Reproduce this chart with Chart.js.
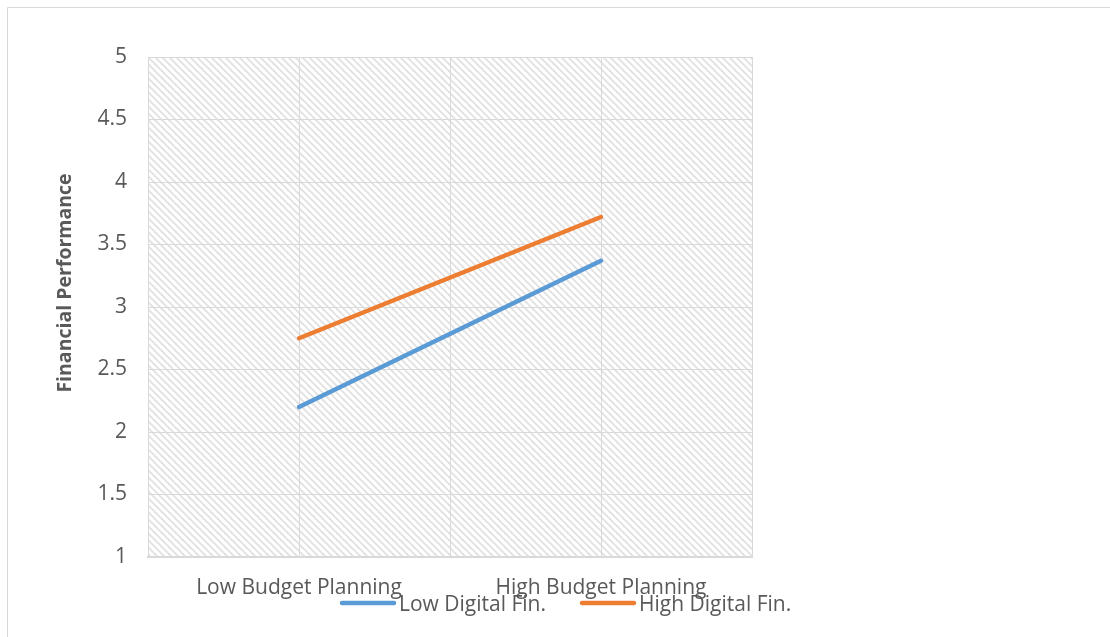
<!DOCTYPE html>
<html>
<head>
<meta charset="utf-8">
<script src="https://cdn.jsdelivr.net/npm/chart.js@4.4.1/dist/chart.umd.min.js"></script>
<style>
  html, body { margin: 0; padding: 0; background: #ffffff; }
  #wrap { width: 1110px; height: 637px; position: relative; }
</style>
</head>
<body>
<div id="wrap"><canvas id="c" width="1110" height="637"></canvas></div>
<script>
// ---- data ----
const categories = ['', 'Low Budget Planning', '', 'High Budget Planning', ''];
const lowDigitalFin = [null, 2.20, null, 3.37, null];
const highDigitalFin = [null, 2.75, null, 3.72, null];
const seriesNames = ['Low Digital Fin.', 'High Digital Fin.'];
const yAxisTitle = 'Financial Performance';
const yMin = 1, yMax = 5, yStep = 0.5;

const FONT = "'Open Sans', 'DejaVu Sans', sans-serif";
const TEXT = '#595959';

// hatch pattern
function makePattern(ctx) {
  const P = 7;
  const t = document.createElement('canvas');
  t.width = P; t.height = P;
  const g = t.getContext('2d');
  g.fillStyle = '#ffffff';
  g.fillRect(0, 0, P, P);
  g.strokeStyle = '#e1e1e1';
  g.lineWidth = 1.8;
  for (let k = -P; k <= P; k += P) {
    g.beginPath();
    g.moveTo(k - 1, -1);
    g.lineTo(k + P + 1, P + 1);
    g.stroke();
  }
  return ctx.createPattern(t, 'repeat');
}

const decor = {
  id: 'decor',
  beforeDraw(chart) {
    const { ctx, chartArea: a } = chart;
    ctx.save();
    ctx.fillStyle = '#ffffff';
    ctx.fillRect(0, 0, chart.width, chart.height);
    ctx.strokeStyle = '#d9d9d9';
    ctx.lineWidth = 1;
    ctx.beginPath();
    ctx.moveTo(7.5, chart.height);
    ctx.lineTo(7.5, 7.5);
    ctx.lineTo(chart.width, 7.5);
    ctx.stroke();
    ctx.fillStyle = makePattern(ctx);
    ctx.fillRect(a.left, a.top, a.right - a.left, a.bottom - a.top);
    ctx.restore();
  },
  afterDraw(chart) {
    const { ctx } = chart;
    ctx.save();
    ctx.translate(65, 283);
    ctx.rotate(-Math.PI / 2);
    ctx.font = 'bold 19.5px ' + FONT;
    ctx.fillStyle = TEXT;
    ctx.textAlign = 'center';
    ctx.textBaseline = 'middle';
    ctx.fillText(yAxisTitle, 0, 0);
    ctx.restore();
    ctx.save();
    const items = [
      { x: 340, ds: chart.data.datasets[0] },
      { x: 580, ds: chart.data.datasets[1] }
    ];
    ctx.font = '21px ' + FONT;
    ctx.textBaseline = 'middle';
    items.forEach(it => {
      ctx.strokeStyle = it.ds.borderColor;
      ctx.lineWidth = 4.5;
      ctx.lineCap = 'round';
      ctx.beginPath();
      ctx.moveTo(it.x + 2, 603);
      ctx.lineTo(it.x + 54, 603);
      ctx.stroke();
      ctx.fillStyle = TEXT;
      ctx.fillText(it.ds.label, it.x + 59, 605);
    });
    ctx.restore();
  }
};

new Chart(document.getElementById('c'), {
  type: 'line',
  data: {
    labels: categories,
    datasets: [
      { label: seriesNames[0], data: lowDigitalFin, borderColor: '#5B9BD5', backgroundColor: '#5B9BD5',
        borderWidth: 4.5, borderCapStyle: 'round', pointRadius: 0, spanGaps: true, tension: 0 },
      { label: seriesNames[1], data: highDigitalFin, borderColor: '#ED7D31', backgroundColor: '#ED7D31',
        borderWidth: 4.5, borderCapStyle: 'round', pointRadius: 0, spanGaps: true, tension: 0 }
    ]
  },
  options: {
    responsive: false,
    animation: false,
    layout: { padding: { left: 0, right: 358, top: 57, bottom: 0 } },
    plugins: { legend: { display: false }, tooltip: { enabled: false } },
    scales: {
      x: {
        type: 'category',
        offset: false,
        grid: { color: '#d9d9d9', lineWidth: 1, drawTicks: false, offset: false },
        border: { color: '#d9d9d9', width: 2 },
        ticks: { autoSkip: false, maxRotation: 0, color: TEXT, font: { family: FONT, size: 21 }, padding: 18 },
        afterFit(s) { s.height = 80; }
      },
      y: {
        min: yMin, max: yMax,
        grid: { color: '#d9d9d9', lineWidth: 1, drawTicks: false },
        border: { display: false },
        ticks: { stepSize: yStep, color: TEXT, font: { family: FONT, size: 21 }, padding: 21,
                 callback: v => String(Number(v)) },
        afterFit(s) { s.width = 148; }
      }
    }
  },
  plugins: [decor]
});
</script>
</body>
</html>
